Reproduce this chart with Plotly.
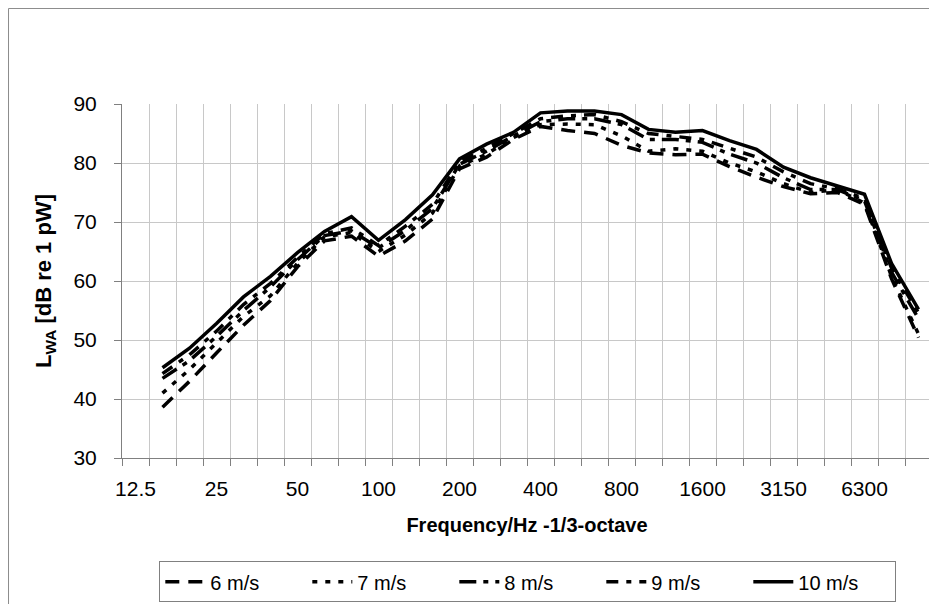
import plotly.graph_objects as go

FREQ = ["12.5", "16", "20", "25", "31.5", "40", "50", "63", "80", "100",
        "125", "160", "200", "250", "315", "400", "500", "630", "800", "1000",
        "1250", "1600", "2000", "2500", "3150", "4000", "5000", "6300", "8000", "10000"]

S6 = [None, 38.6, 43.0, 47.8, 52.5, 56.7, 62.4, 66.8, 67.6, 64.2, 66.8, 70.5, 79.0, 81.0, 84.0,
      86.2, 85.5, 85.0, 83.0, 81.7, 81.4, 81.5, 79.4, 77.6, 76.0, 74.8, 75.0, 73.0, 60.4, 50.4]
S7 = [None, 41.0, 45.0, 49.5, 54.0, 57.5, 63.0, 67.5, 68.2, 65.0, 67.8, 71.5, 79.5, 81.5, 84.3,
      86.5, 86.6, 86.5, 84.6, 82.0, 82.4, 82.0, 80.0, 78.5, 76.5, 75.0, 75.5, 73.2, 60.8, 51.0]
S8 = [None, 43.5, 46.5, 50.6, 55.0, 59.0, 63.6, 67.7, 68.5, 65.6, 68.6, 72.3, 79.8, 82.0, 84.6,
      87.0, 87.5, 87.5, 86.5, 84.0, 84.0, 83.5, 81.5, 80.0, 77.5, 75.5, 75.5, 73.6, 61.5, 53.6]
S9 = [None, 44.3, 47.5, 51.5, 56.0, 59.6, 64.0, 68.0, 69.0, 66.0, 69.3, 73.0, 80.2, 82.5, 85.0,
      87.5, 88.0, 88.2, 87.0, 85.0, 84.5, 84.0, 82.5, 81.0, 78.5, 76.5, 75.6, 74.0, 62.2, 54.6]
S10 = [None, 45.3, 48.6, 52.8, 57.3, 60.8, 64.8, 68.4, 70.9, 66.9, 70.4, 74.6, 80.7, 83.2, 85.2,
       88.5, 88.8, 88.8, 88.2, 85.7, 85.2, 85.5, 83.8, 82.3, 79.3, 77.5, 76.1, 74.7, 63.0, 55.2]

SERIES = [("6 m/s", S6, "14px,9px"),
          ("7 m/s", S7, "5px,8px"),
          ("8 m/s", S8, "17px,7px,5px,7px"),
          ("9 m/s", S9, "12px,8px,5px,8px"),
          ("10 m/s", S10, "solid")]

X = list(range(len(FREQ)))
LABEL_IDX = X[::3]
LABELS = FREQ[::3]

FONT = "Liberation Sans, Arial, sans-serif"
GRID = "#c8c8c8"
AXIS = "#808080"

fig = go.Figure()
for name, vals, dash in SERIES:
    fig.add_trace(go.Scatter(x=X, y=vals, name=name, mode="lines",
                             line=dict(color="black", width=3.5, dash=dash)))

fig.update_layout(
    width=937, height=604,
    paper_bgcolor="white", plot_bgcolor="white",
    margin=dict(l=114, r=13, t=96, b=154, autoexpand=False),
    font=dict(family=FONT, size=20, color="black"),
    showlegend=True,
    legend=dict(orientation="h", x=0.501, xanchor="center", y=-0.292, yanchor="top",
                bordercolor=AXIS, borderwidth=1, font=dict(size=20),
                entrywidth=92, traceorder="normal", itemwidth=40,
                tracegroupgap=0),
    xaxis=dict(range=[-0.5, len(FREQ) - 0.5], tickmode="array", tickvals=LABEL_IDX,
               ticktext=LABELS, ticks="", showgrid=False, zeroline=False,
               showline=True, linecolor=AXIS, linewidth=1,
               tickfont=dict(size=21), ticklabelstandoff=12,
               minor=dict(tickmode="array", tickvals=[i - 0.5 for i in range(len(FREQ) + 1)],
                          ticks="outside", ticklen=7, tickcolor=AXIS,
                          showgrid=True, gridcolor=GRID, gridwidth=1),
               title=dict(text="<b>Frequency/Hz -1/3-octave</b>", standoff=18,
                          font=dict(size=20))),
    yaxis=dict(range=[30, 90], tickmode="linear", tick0=30, dtick=10,
               ticks="outside", ticklen=7, tickcolor=AXIS, showgrid=True, gridcolor=GRID,
               zeroline=False, showline=True, linecolor=AXIS, linewidth=1,
               tickfont=dict(size=21), ticklabelstandoff=13,
               title=dict(text="<b>L<sub>WA</sub> [dB re 1 pW]</b>", standoff=15,
                          font=dict(size=22))),
    shapes=[dict(type="rect", xref="paper", yref="paper", x0=-0.1401, x1=1.03,
                 y0=-0.46, y1=1.2698, line=dict(color="#8c8c8c", width=1),
                 fillcolor="rgba(0,0,0,0)", layer="below")],
)

fig.write_html("out.html")
